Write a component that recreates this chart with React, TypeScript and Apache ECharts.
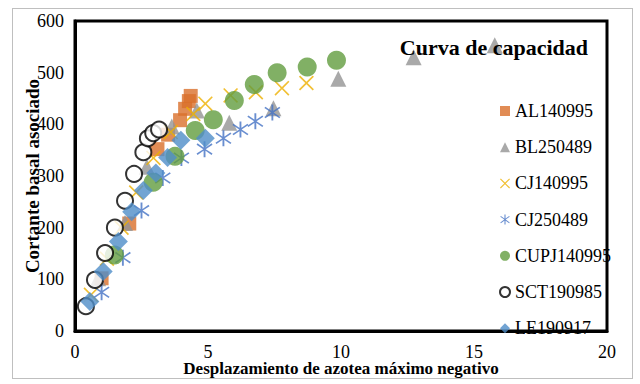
import React, { useEffect, useRef } from "react";
import * as echarts from "echarts";

const title = "Curva de capacidad";
const xName = "Desplazamiento de azotea máximo negativo";
const yName = "Cortante basal asociado";
const xTicks = [0, 5, 10, 15, 20];
const yTicks = [0, 100, 200, 300, 400, 500, 600];

const AL140995: [number, number][] = [
  [1.0, 102], [2.04, 208], [3.1, 352], [3.5, 380], [3.95, 408], [4.14, 430], [4.28, 445], [4.35, 455],
];
const BL250489: [number, number][] = [
  [0.87, 102], [1.88, 209], [2.7, 318], [3.64, 396], [4.58, 427], [5.8, 403], [7.46, 431], [9.9, 488], [12.73, 530], [15.78, 553],
];
const CJ140995: [number, number][] = [
  [0.6, 70], [1.2, 140], [1.75, 200], [2.3, 268], [2.95, 335], [3.6, 385], [4.45, 420], [4.9, 440], [5.85, 456], [6.8, 462], [7.78, 470], [8.7, 480],
];
const CJ250489: [number, number][] = [
  [1.0, 75], [1.8, 142], [2.5, 233], [3.3, 296], [4.0, 335], [4.87, 352], [5.58, 373], [6.22, 390], [6.78, 406], [7.42, 423],
];
const CUPJ140995: [number, number][] = [
  [1.48, 147], [2.94, 288], [3.76, 338], [4.52, 388], [5.2, 409], [5.99, 446], [6.74, 477], [7.6, 500], [8.73, 511], [9.83, 524],
];
const SCT190985: [number, number][] = [
  [0.41, 48], [0.75, 99], [1.13, 151], [1.5, 200], [1.88, 252], [2.22, 304], [2.57, 346], [2.74, 373], [2.94, 383], [3.16, 390],
];
const LE190917: [number, number][] = [
  [0.56, 57], [1.06, 115], [1.63, 173], [2.13, 231], [2.57, 272], [3.04, 306], [3.48, 336], [3.98, 369], [4.9, 373],
];

const FONT = "'Liberation Serif'";

export default function App() {
  const ref = useRef<HTMLDivElement>(null);
  useEffect(() => {
    const chart = echarts.init(ref.current!, null, { renderer: "svg" });
    const xPath =
      "path://M0,0.8L0.8,0L5,4.2L9.2,0L10,0.8L5.8,5L10,9.2L9.2,10L5,5.8L0.8,10L0,9.2L4.2,5Z";
    const starPath =
      "path://M4.45,0L5.55,0L5.55,10L4.45,10Z" +
      "M0.3,2.2L0.9,1.4L5,4.4L9.1,1.4L9.7,2.2L5.7,5L9.7,7.8L9.1,8.6L5,5.6L0.9,8.6L0.3,7.8L4.3,5Z";
    const tickRich = { t: { fontFamily: FONT, fontSize: 18, color: "#000" } };
    chart.setOption({
      animation: false,
      title: {
        text: title,
        right: 47,
        top: 31,
        textStyle: { fontFamily: FONT, fontSize: 22, fontWeight: "bold", color: "#000" },
      },
      legend: {
        orient: "vertical",
        left: 494,
        top: 97,
        itemWidth: 10,
        itemHeight: 10,
        itemGap: 18.2,
        textStyle: { fontFamily: FONT, fontSize: 18, color: "#000", lineHeight: 18 },
        data: ["AL140995", "BL250489", "CJ140995", "CJ250489", "CUPJ140995", "SCT190985", "LE190917"],
      },
      grid: {
        left: 75,
        right: 33,
        top: 21,
        bottom: 53,
        outerBoundsMode: "none",
        show: true,
        borderColor: "#000",
        borderWidth: 3,
      },
      xAxis: {
        type: "value",
        min: 0,
        max: 20,
        interval: 5,
        name: xName,
        nameLocation: "middle",
        nameGap: 29,
        nameMoveOverlap: false,
        nameTextStyle: { fontFamily: FONT, fontSize: 17, fontWeight: "bold", color: "#000" },
        axisLine: { show: true, onZero: false, lineStyle: { color: "#000", width: 3 } },
        axisTick: { show: false },
        splitLine: { show: false },
        axisLabel: { fontFamily: FONT, fontSize: 18, color: "#000", margin: 12, rich: tickRich,
          formatter: (v: number) => (xTicks.includes(v) ? `{t|${v}}` : "") },
      },
      yAxis: {
        type: "value",
        min: 0,
        max: 600,
        interval: 100,
        name: yName,
        nameLocation: "middle",
        nameGap: 33,
        nameMoveOverlap: false,
        nameTextStyle: { fontFamily: FONT, fontSize: 19, fontWeight: "bold", color: "#000" },
        axisLine: { show: true, onZero: false, lineStyle: { color: "#000", width: 3 } },
        axisTick: { show: false },
        splitLine: { show: false },
        axisLabel: { fontFamily: FONT, fontSize: 18, color: "#000", margin: 11, rich: tickRich,
          formatter: (v: number) => (yTicks.includes(v) ? `{t|${v}}` : "") },
      },
      series: [
        { name: "AL140995", type: "scatter", data: AL140995, symbol: "rect", symbolSize: 14,
          itemStyle: { color: "#D96F2A" } },
        { name: "BL250489", type: "scatter", data: BL250489, symbol: "triangle", symbolSize: 16,
          itemStyle: { color: "#949494" } },
        { name: "CJ140995", type: "scatter", data: CJ140995, symbol: xPath, symbolSize: 15,
          itemStyle: { color: "#EDB000" } },
        { name: "CJ250489", type: "scatter", data: CJ250489, symbol: starPath, symbolSize: 16,
          itemStyle: { color: "#4472C4" } },
        { name: "CUPJ140995", type: "scatter", data: CUPJ140995, symbol: "circle", symbolSize: 19,
          itemStyle: { color: "#629C3E" } },
        { name: "SCT190985", type: "scatter", data: SCT190985, symbol: "emptyCircle", symbolSize: 16,
          itemStyle: { color: "#000", borderColor: "#000", borderWidth: 1.3 } },
        { name: "LE190917", type: "scatter", data: LE190917, symbol: "diamond", symbolSize: 19,
          itemStyle: { color: "#4F8DC8" } },
      ],
    });
    return () => chart.dispose();
  }, []);
  return (
    <div style={{ position: "absolute", left: 0, top: 0, width: 640, height: 384, background: "#fff" }}>
      <div
        style={{
          position: "absolute", left: 12, top: 8, width: 619, height: 369,
          border: "1.5px solid #BFBFBF", boxSizing: "content-box",
        }}
      />
      <div ref={ref} style={{ position: "absolute", left: 0, top: 0, width: 640, height: 384 }} />
    </div>
  );
}
